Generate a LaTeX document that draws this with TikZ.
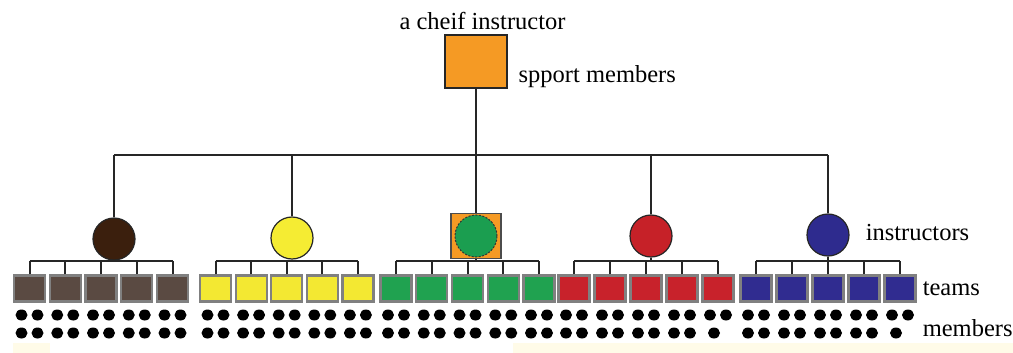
\documentclass[tikz,border=0pt]{standalone}
\usepackage{fontspec}
\setmainfont{Liberation Serif}
\usetikzlibrary{positioning, shapes.geometric}

\definecolor{chieforange}{HTML}{F59A24}
\definecolor{brownI}{HTML}{3B1F0D}
\definecolor{brownT}{HTML}{5A4A42}
\definecolor{yellowI}{HTML}{F5EC33}
\definecolor{yellowT}{HTML}{F3E832}
\definecolor{greenI}{HTML}{1B9E50}
\definecolor{greenT}{HTML}{20A250}
\definecolor{redI}{HTML}{C62128}
\definecolor{redT}{HTML}{C8222B}
\definecolor{blueI}{HTML}{2E2B8E}
\definecolor{blueT}{HTML}{302C90}
\definecolor{cream}{HTML}{FFFBE8}

\begin{document}
\begin{tikzpicture}[x=1pt, y=-1pt,
  chief/.style={draw=black!85, fill=chieforange, line width=2pt, minimum width=62pt, minimum height=53pt, inner sep=0pt},
  instr/.style={draw=black!85, circle, line width=1.2pt, minimum size=42pt, inner sep=0pt},
  team/.style={draw=gray, fill=#1, line width=2.2pt, minimum width=31pt, minimum height=26pt, inner sep=0pt},
  member/.style={fill=black, ellipse, minimum width=12pt, minimum height=11pt, inner sep=0pt},
  wire/.style={draw=black!85, line width=2pt},
  lbl/.style={font=\fontsize{24.5}{26}\selectfont, inner sep=0pt}]

    \useasboundingbox (0,0) rectangle (1013,353);
    \fill[cream] (13,343) rectangle (50,353); % scan tint at the bottom
    \fill[cream] (513,343) rectangle (1013,353);

    % the chief instructor
    \node[chief] (chief) at (475.5,62) {};
    \node[lbl, above=5pt of chief, xshift=7pt] (chieflbl) {a cheif instructor};
    \node[lbl, right=11pt of chief.south east, anchor=base west, yshift=7pt] (spportlbl) {spport members};

    % the instructors
    \node[instr, fill=brownI] (i1) at (114,239) {};
    \node[instr, fill=yellowI] (i2) at (292,238) {};
    \node[draw=black!70, fill=chieforange, line width=1.5pt, minimum width=50pt, minimum height=45pt, inner sep=0pt] (i3) at (476,236) {}; % orange square behind the green one
    \node[instr, fill=greenI, draw=black!80, dash pattern=on 2pt off 1.5pt, line width=1pt] (i3c) at (i3) {};
    \node[instr, fill=redI] (i4) at (651,236) {};
    \node[instr, fill=blueI] (i5) at (828,235) {};
    \node[lbl, right=16pt of i5, yshift=2pt] (instrlbl) {instructors};

    % the bus from the chief to the instructors
    \coordinate (busL) at (114,155);
    \coordinate (busR) at (828,155);
    \draw[wire] (chief.south) -- (chief.south |- busL);
    \draw[wire] (busL) -- (busR);
    \foreach \g in {1,...,5}
        \draw[wire] (i\g.north |- busL) -- (i\g.north);

    % teams and their members
    \foreach \g/\x/\d/\col in {1/29.5/35.75/brownT, 2/215.5/35.6/yellowT, 3/396/35.75/greenT, 4/574/36/redT, 5/756/36/blueT} {
        \foreach \k in {1,...,5} {
            \node[team=\col] (t\g\k) at ({\x+\d*(\k-1)},288.5) {};
            \draw[wire] (t\g\k.north) -- (t\g\k.north |- 0,261);
            \node[member] (m\g\k a) at ([xshift=-8pt,yshift=-26.5pt]t\g\k.center) {};
            \node[member] (m\g\k b) at ([xshift=8pt,yshift=-26.5pt]t\g\k.center) {};
            \pgfmathtruncatemacro\single{and(\k==5,\g>3)}
            \ifnum\single=1
                \node[member] (m\g\k c) at ([xshift=-4pt,yshift=-44.5pt]t\g\k.center) {}; % only one member left
            \else
                \node[member] (m\g\k c) at ([xshift=-8pt,yshift=-44.5pt]t\g\k.center) {};
                \node[member] (m\g\k d) at ([xshift=8pt,yshift=-44.5pt]t\g\k.center) {};
            \fi
        }
        \draw[wire] (t\g1.north |- 0,261) -- (t\g5.north |- 0,261);
        \draw[wire] (i\g.south) -- (i\g.south |- 0,261);
    }

    \node[lbl, right=6pt of t55] (teamlbl) {teams};
    \node[lbl, anchor=base west] (memberlbl) at ([yshift=-41pt]teamlbl.base west) {members};
\end{tikzpicture}
\end{document}
